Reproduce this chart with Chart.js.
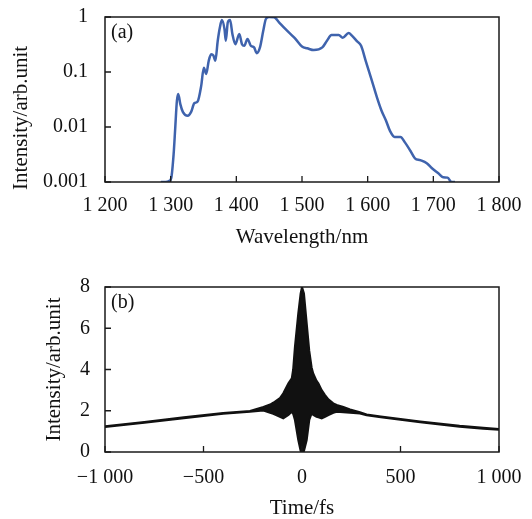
<!DOCTYPE html>
<html><head><meta charset="utf-8">
<script src="https://cdn.jsdelivr.net/npm/chart.js@4.4.1/dist/chart.umd.min.js"></script>
<style>
html,body{margin:0;padding:0;background:#fff;width:532px;height:519px;overflow:hidden}
#wa{position:absolute;left:0;top:0;width:532px;height:258px}
#wb{position:absolute;left:0;top:258px;width:532px;height:261px}
</style></head><body>
<div id="wa"><canvas id="ca"></canvas></div>
<div id="wb"><canvas id="cb"></canvas></div>
<script>
// ---- (a) spectrum ----
const wavelengthNm = [1285,1292,1298,1301,1304.5,1307,1309.5,1311.5,1314.7,1318.7,1326,1331,1336,1341,1346.5,1350.5,1354,1358,1361.6,1365,1368,1371.7,1375,1378,1382,1384,1387,1390.5,1394,1398.5,1404.5,1408.6,1412,1417,1422,1427,1431,1436,1441,1445,1450,1457.6,1465,1475,1485,1490,1500,1508,1518,1531,1538,1545,1556,1562,1571,1576,1584,1590,1597,1606.5,1614,1621,1628,1634,1641,1650,1657,1665,1672,1680,1690,1697.5,1707.6,1715,1721.7,1727.7,1733];
const intensityA = [0.001,0.001,0.00105,0.0012,0.0032,0.0098,0.030,0.040,0.026,0.0186,0.016,0.0186,0.027,0.029,0.056,0.12,0.092,0.16,0.21,0.20,0.16,0.37,0.65,0.88,0.60,0.37,0.80,0.88,0.49,0.32,0.49,0.32,0.30,0.40,0.30,0.28,0.22,0.28,0.56,0.92,1.0,0.99,0.80,0.60,0.46,0.40,0.29,0.27,0.25,0.28,0.37,0.47,0.47,0.42,0.51,0.46,0.36,0.30,0.16,0.069,0.035,0.020,0.013,0.0085,0.0066,0.0066,0.0052,0.0037,0.0027,0.0025,0.0022,0.0018,0.00144,0.00122,0.0012,0.001,0.001];
const xTicksA = [1200,1300,1400,1500,1600,1700,1800];
const yTicksA = [0.001,0.01,0.1,1];

// ---- (b) autocorrelation (upper / lower fringe envelope) ----
const timeFs = [-1000,-800,-600,-400,-264,-196,-162,-146,-112,-95,-69,-52,-45,-36,-19,-7,0,10,24,37,49,57,74,83,100,117,134,159,176,210,244,294,328,400,600,800,920,1000];
const upperB = [1.25,1.46,1.68,1.89,1.99,2.18,2.30,2.39,2.62,2.85,3.33,3.57,4.0,5.1,6.72,7.69,8.0,7.69,6.24,4.9,4.1,3.81,3.45,3.33,3.0,2.76,2.55,2.36,2.28,2.18,2.06,1.93,1.82,1.72,1.48,1.27,1.17,1.12];
const lowerB = [1.21,1.42,1.64,1.85,1.95,2.01,1.90,1.85,1.71,1.63,1.79,1.95,1.85,1.55,0.58,0.05,0.0,0.05,0.58,1.55,1.87,1.80,1.71,1.68,1.63,1.70,1.79,1.90,1.95,1.93,1.90,1.87,1.78,1.68,1.44,1.23,1.13,1.08];
const xTicksB = [-1000,-500,0,500,1000];
const yTicksB = [0,2,4,6,8];

const SERIF = '"Liberation Serif", "Times New Roman", serif';
function fmtNum(v){
  const neg = v < 0; let s = String(Math.abs(v));
  if (Math.abs(v) >= 1000) s = s.replace(/\B(?=(\d{3})+(?!\d))/g, ' ');
  return (neg ? '\u2212' : '') + s;
}

const framePlugin = {
  id: 'frame',
  afterDatasetsDraw(chart, args, opts) {
    const {ctx, chartArea: a, scales} = chart;
    ctx.save();
    ctx.strokeStyle = '#1a1a1a';
    ctx.lineWidth = 1.5;
    ctx.strokeRect(a.left, a.top, a.right - a.left, a.bottom - a.top);
    ctx.lineWidth = 1.3;
    ctx.beginPath();
    scales.x.ticks.forEach(t => { const p = scales.x.getPixelForValue(t.value); ctx.moveTo(p, a.bottom); ctx.lineTo(p, a.bottom - 6); });
    scales.y.ticks.forEach(t => { const p = scales.y.getPixelForValue(t.value); ctx.moveTo(a.left, p); ctx.lineTo(a.left + 6, p); });
    ctx.stroke();
    ctx.font = '20px ' + SERIF;
    ctx.fillStyle = '#111';
    ctx.textBaseline = 'middle';
    ctx.textAlign = 'left';
    ctx.fillText(opts.label, a.left + 6, a.top + 16);
    ctx.restore();
  }
};

function axisCommon(){
  return {
    grid: {display: false, drawTicks: false},
    border: {display: false},
  };
}
function fixX(h){ return s => { s.height = h; s.paddingLeft = 0; s.paddingRight = 0; }; }
function fixY(w){ return s => { s.width = w; s.paddingTop = 0; s.paddingBottom = 0; }; }

new Chart(document.getElementById('ca'), {
  type: 'line',
  data: {
    datasets: [{
      data: wavelengthNm.map((x, i) => ({x, y: intensityA[i]})),
      borderColor: '#3f63ad',
      borderWidth: 2.5,
      pointRadius: 0,
      cubicInterpolationMode: 'monotone',
      fill: false
    }]
  },
  options: {
    responsive: true, maintainAspectRatio: false, animation: false, devicePixelRatio: 1,
    layout: {padding: {left: 6, right: 33, top: 17, bottom: 0}},
    plugins: {legend: {display: false}, tooltip: {enabled: false}, frame: {label: '(a)'}},
    scales: {
      x: Object.assign(axisCommon(), {
        type: 'linear', min: 1200, max: 1800,
        afterBuildTicks: s => { s.ticks = xTicksA.map(v => ({value: v})); },
        afterFit: fixX(76),
        ticks: {callback: v => fmtNum(v), font: {family: SERIF, size: 20}, color: '#111', padding: 12, autoSkip: false, maxRotation: 0},
        title: {display: true, text: 'Wavelength/nm', font: {family: SERIF, size: 21, lineHeight: 1}, color: '#111', padding: {top: 0, bottom: 10}}
      }),
      y: Object.assign(axisCommon(), {
        type: 'logarithmic', min: 0.001, max: 1,
        afterBuildTicks: s => { s.ticks = yTicksA.map(v => ({value: v})); },
        afterFit: fixY(99),
        ticks: {callback: v => String(v), font: {family: SERIF, size: 20}, color: '#111', padding: 17},
        title: {display: true, text: 'Intensity/arb.unit       ', font: {family: SERIF, size: 21, lineHeight: 1}, color: '#111', padding: {top: 5, bottom: 0}}
      })
    }
  },
  plugins: [framePlugin]
});

new Chart(document.getElementById('cb'), {
  type: 'line',
  data: {
    datasets: [{
      data: timeFs.map((x, i) => ({x, y: upperB[i]})),
      borderColor: '#111', borderWidth: 2, pointRadius: 0, fill: false
    }, {
      data: timeFs.map((x, i) => ({x, y: lowerB[i]})),
      borderColor: '#111', borderWidth: 2, pointRadius: 0, fill: '-1', backgroundColor: '#111'
    }]
  },
  options: {
    responsive: true, maintainAspectRatio: false, animation: false, devicePixelRatio: 1,
    layout: {padding: {left: 44, right: 33, top: 29, bottom: 0}},
    plugins: {legend: {display: false}, tooltip: {enabled: false}, frame: {label: '(b)'}},
    scales: {
      x: Object.assign(axisCommon(), {
        type: 'linear', min: -1000, max: 1000,
        afterBuildTicks: s => { s.ticks = xTicksB.map(v => ({value: v})); },
        afterFit: fixX(67),
        ticks: {callback: v => fmtNum(v), font: {family: SERIF, size: 20}, color: '#111', padding: 14, autoSkip: false, maxRotation: 0},
        title: {display: true, text: 'Time/fs', font: {family: SERIF, size: 21, lineHeight: 1}, color: '#111', padding: {top: 0, bottom: 0}}
      }),
      y: Object.assign(axisCommon(), {
        type: 'linear', min: 0, max: 8,
        afterBuildTicks: s => { s.ticks = yTicksB.map(v => ({value: v})); },
        afterFit: fixY(61),
        ticks: {callback: v => fmtNum(v), font: {family: SERIF, size: 20}, color: '#111', padding: 15},
        title: {display: true, text: 'Intensity/arb.unit', font: {family: SERIF, size: 21, lineHeight: 1}, color: '#111', padding: {top: 0, bottom: 0}}
      })
    }
  },
  plugins: [framePlugin]
});
</script>
</body></html>
